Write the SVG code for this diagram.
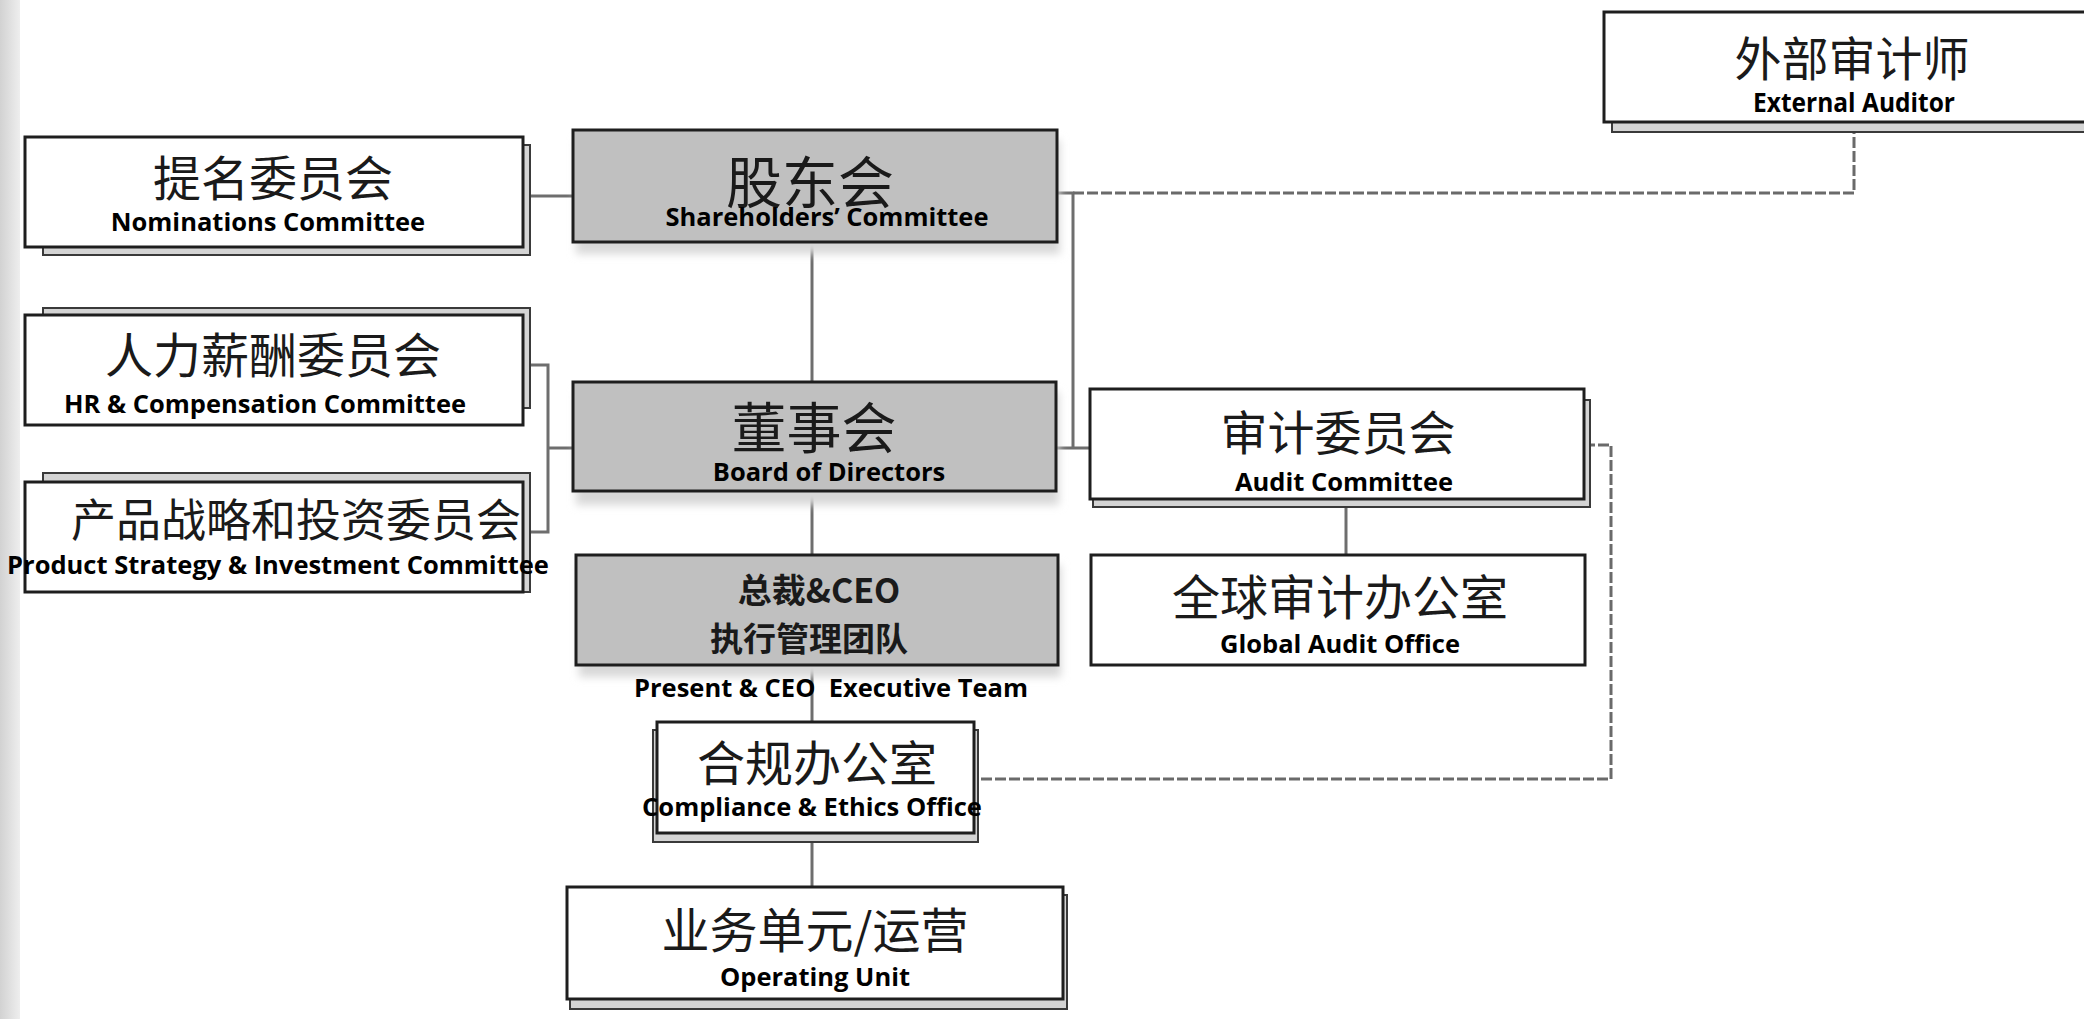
<svg xmlns="http://www.w3.org/2000/svg" width="2084" height="1019" viewBox="0 0 2084 1019">
<defs>
<linearGradient id="edge" x1="0" y1="0" x2="1" y2="0">
<stop offset="0" stop-color="#d2d2d2"/>
<stop offset="1" stop-color="#eeeeee"/>
</linearGradient>
<filter id="soft" x="-10%" y="-10%" width="120%" height="140%">
<feGaussianBlur stdDeviation="4"/>
</filter>
</defs>
<style>
.front{fill:#ffffff;stroke:#1e1e1e;stroke-width:3}
.gray{fill:#c0c0c0;stroke:#1e1e1e;stroke-width:3}
.back{fill:#d4d4d4;stroke:#3a3a3a;stroke-width:2}
.shadow{fill:#d8d8d8;filter:url(#soft)}
.cn{font-family:"Noto Sans CJK SC",sans-serif;fill:#1a1a1a;text-anchor:middle}
.en{font-family:"Open Sans","Noto Sans",sans-serif;font-weight:700;fill:#000;text-anchor:middle;font-size:25.5px}
.conn{fill:none;stroke:#6e6e6e;stroke-width:3}
.dash{fill:none;stroke:#6a6a6a;stroke-width:3;stroke-dasharray:11 3}
</style>
<rect x="0" y="0" width="2084" height="1019" fill="#ffffff"/>
<rect x="0" y="0" width="20" height="1019" fill="url(#edge)"/>

<g id="connectors">
<path class="conn" d="M530 196 H573"/>
<path class="conn" d="M812 242 V382"/>
<path class="conn" d="M530 365 H548 V532 H530 M548 448 H573"/>
<path class="conn" d="M1057 193 H1073 V448 M1056 448 H1090"/>
<path class="dash" d="M1073 193 H1854 V132"/>
<path class="conn" d="M1346 507 V555"/>
<path class="conn" d="M812 491 V555"/>
<path class="conn" d="M812 665 V722"/>
<path class="conn" d="M812 842 V887"/>
<path class="dash" d="M1584 445 H1611 V779 H974"/>
</g>

<g id="external-auditor">
<rect class="back" x="1612" y="20" width="500" height="112"/>
<rect class="front" x="1604" y="12" width="500" height="110"/>
<text class="cn" x="1852" y="76" font-size="47">外部审计师</text>
<text class="en" x="1854" y="112" style="font-size:27px" textLength="202" lengthAdjust="spacingAndGlyphs">External Auditor</text>
</g>

<g id="nominations-committee">
<rect class="back" x="43" y="145" width="487" height="110"/>
<rect class="front" x="25" y="137" width="498" height="110"/>
<text class="cn" x="273" y="196" font-size="48">提名委员会</text>
<text class="en" x="268" y="231">Nominations Committee</text>
</g>

<g id="shareholders-committee">
<rect class="shadow" x="576" y="140" width="484" height="114"/>
<rect class="gray" x="573" y="130" width="484" height="112"/>
<text class="cn" x="810" y="203" font-size="56">股东会</text>
<text class="en" x="827" y="226">Shareholders’ Committee</text>
</g>

<g id="hr-committee">
<rect class="back" x="43" y="308" width="487" height="100"/>
<rect class="front" x="25" y="315" width="498" height="110"/>
<text class="cn" x="273" y="373" font-size="48">人力薪酬委员会</text>
<text class="en" x="265" y="413">HR &amp; Compensation Committee</text>
</g>

<g id="product-committee">
<rect class="back" x="43" y="473" width="487" height="119"/>
<rect class="front" x="25" y="482" width="498" height="110"/>
<text class="cn" x="296" y="537" font-size="45">产品战略和投资委员会</text>
<text class="en" x="278" y="574">Product Strategy &amp; Investment Committee</text>
</g>

<g id="board-of-directors">
<rect class="shadow" x="576" y="392" width="483" height="113"/>
<rect class="gray" x="573" y="382" width="483" height="109"/>
<text class="cn" x="814" y="448" font-size="55">董事会</text>
<text class="en" x="829" y="481">Board of Directors</text>
</g>

<g id="audit-committee">
<rect class="back" x="1093" y="400" width="497" height="107"/>
<rect class="front" x="1090" y="389" width="494" height="110"/>
<text class="cn" x="1338" y="450" font-size="47">审计委员会</text>
<text class="en" x="1344" y="491">Audit Committee</text>
</g>

<g id="ceo-executive-team">
<rect class="shadow" x="579" y="565" width="482" height="112"/>
<rect class="gray" x="576" y="555" width="482" height="110"/>
<text class="cn" x="819" y="603" font-size="34" font-weight="700">总裁&amp;CEO</text>
<text class="cn" x="809" y="651" font-size="33" font-weight="700">执行管理团队</text>
<text class="en" x="831" y="697" style="white-space:pre" xml:space="preserve">Present &amp; CEO  Executive Team</text>
</g>

<g id="global-audit-office">
<rect class="front" x="1091" y="555" width="494" height="110"/>
<text class="cn" x="1340" y="615" font-size="48">全球审计办公室</text>
<text class="en" x="1340" y="653">Global Audit Office</text>
</g>

<g id="compliance-office">
<rect class="back" x="653" y="730" width="325" height="112"/>
<rect class="front" x="657" y="722" width="317" height="111"/>
<text class="cn" x="817" y="781" font-size="48">合规办公室</text>
<text class="en" x="812" y="816">Compliance &amp; Ethics Office</text>
</g>

<g id="operating-unit">
<rect class="back" x="570" y="895" width="497" height="114"/>
<rect class="front" x="567" y="887" width="496" height="112"/>
<text class="cn" x="815" y="948" font-size="48">业务单元/运营</text>
<text class="en" x="815" y="986">Operating Unit</text>
</g>
</svg>
